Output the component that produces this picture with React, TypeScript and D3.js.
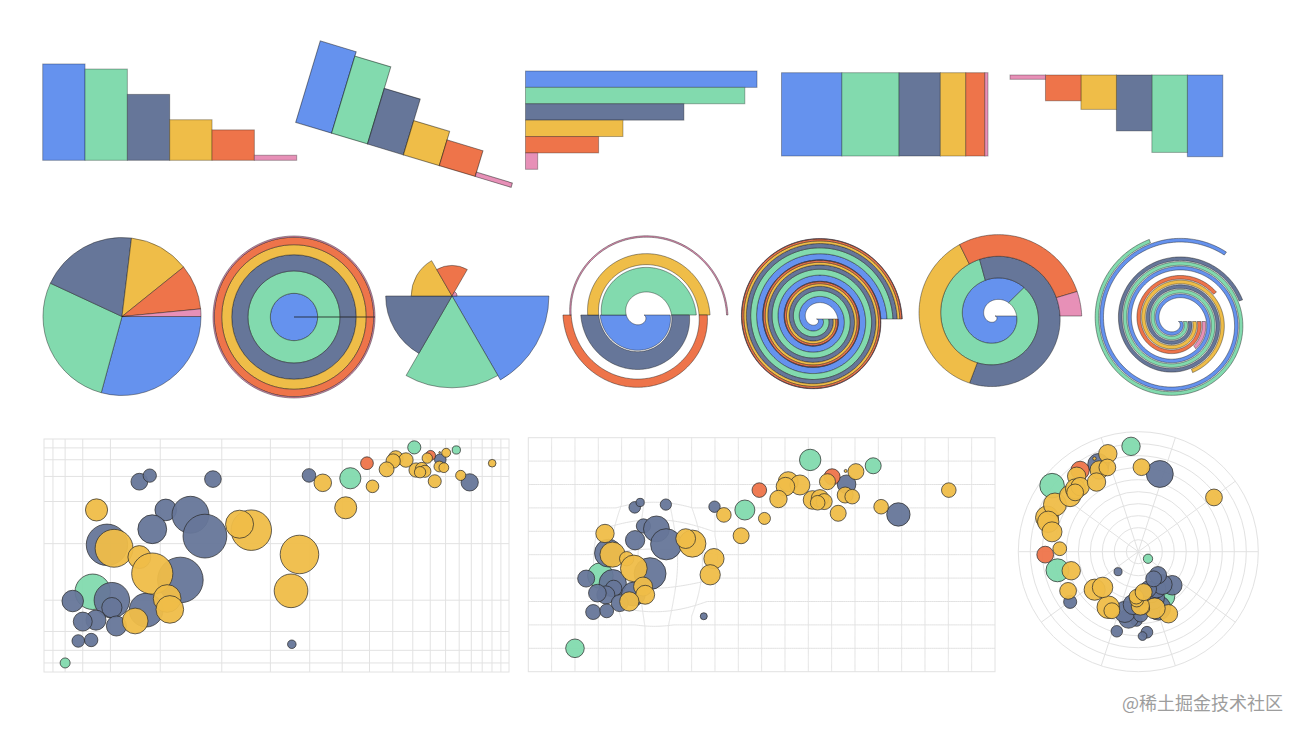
import React from 'react';
import * as d3 from 'd3';

// ---------- data ----------
const categories = ['a', 'b', 'c', 'd', 'e', 'f'];
const values = [0.95, 0.9, 0.65, 0.4, 0.3, 0.05];
const palette = ['#6592EE', '#82DAAE', '#667699', '#EFBD48', '#EE744A', '#E790B7'];

// bubbles: x / y in [0, 100], size = radius in px, group = continent
const bubbleX = [
  17.1, 10, 60.4, 73.9, 46.4,
  19.5, 23.3, 24.2, 29.2, 25.4, 27.3, 28.5, 24.4, 26.5, 12.4, 20.2, 20.2, 17.7, 15.0, 23.9, 20.8, 13.9, 16.8, 37.6, 39.9, 68.2, 79.3,
  65.1, 49.5,
  17.8, 20.5, 23.3, 24.4, 32.9, 31.7, 38.6, 37.5, 25.5, 25.7, 22.9, 41.9, 50.6, 45.6, 68.0, 70.2, 64.1, 55.7, 58.2, 55.1, 53.6, 60.9, 62.5, 63.4, 62.0, 67.9, 69.4, 66.4, 75.6, 90.1,
];
const bubbleY = [
  41.9, 10, 90.5, 88.0, 69.1,
  49.8, 67.5, 70.4, 68.7, 57.5, 56.2, 51.4, 52.8, 44.2, 39.8, 40.0, 38.1, 34.3, 33.8, 37.4, 32.2, 25.5, 26.0, 23.7, 70.5, 80.1, 67.2,
  83.3, 77.6,
  57.5, 49.2, 47.8, 45.3, 52.6, 53.9, 48.2, 42.1, 40.4, 37.6, 34.0, 67.0, 65.5, 58.1, 85.8, 85.5, 81.2, 81.2, 79.8, 79.1, 73.8, 73.4, 74.1, 72.7, 72.2, 75.5, 74.8, 67.7, 70.5, 77.6,
];
const bubbleSize = [
  11, 9.3, 10.7, 8, 10,
  10.6, 5.1, 3.8, 5.0, 4.9, 8.5, 9.2, 6.1, 8.8, 8.5, 10.4, 6.4, 8.1, 8.7, 8.3, 7.1, 7.5, 6.9, 3.5, 5.7, 9.3, 11.7,
  8, 7.3,
  8.0, 9.1, 4.5, 7.9, 9.8, 6.9, 9.2, 8.9, 5.9, 6.3, 7.4, 7.3, 6, 8, 1.5, 8, 8, 10, 10, 9.3, 8.7, 9.3, 8.7, 8, 7.3, 8, 7.3, 8, 7.3, 7.3,
];
const bubbleGroup = [
  ...Array(5).fill('green'),
  ...Array(22).fill('slate'),
  ...Array(2).fill('orange'),
  ...Array(30).fill('yellow'),
];
const groupColor: Record<string, string> = {
  green: '#82DAAE',
  slate: '#667699',
  orange: '#EE744A',
  yellow: '#EFBD48',
};

const TAU = Math.PI * 2;
const barStroke = { stroke: '#000', strokeOpacity: 0.3, strokeWidth: 1 };
const shapeStroke = { stroke: '#1a1a1a', strokeOpacity: 0.55, strokeWidth: 0.8 };

const total = d3.sum(values);
const cumEnd = Array.from(d3.cumsum(values)).map((v) => v / total);
const cumStart = cumEnd.map((v, i) => v - values[i] / total);

// ---------- bar row ----------
const BarsPlain = () => {
  const x = d3.scaleBand<string>().domain(categories).range([42.7, 296.7]);
  const y = d3.scaleLinear().domain([0, 1]).range([160.3, 58.9]);
  return (
    <g>
      {categories.map((c, i) => (
        <rect key={c} x={x(c)} y={y(values[i])} width={x.bandwidth()} height={y(0) - y(values[i])} fill={palette[i]} {...barStroke} />
      ))}
    </g>
  );
};

const BarsRotated = () => {
  const x = d3.scaleBand<string>().domain(categories).range([0, 225]);
  const y = d3.scaleLinear().domain([0, 1]).range([0, -89.5]);
  return (
    <g transform="translate(295.7,122.3) rotate(16.8)">
      {categories.map((c, i) => (
        <rect key={c} x={x(c)} y={y(values[i])} width={x.bandwidth()} height={y(0) - y(values[i])} fill={palette[i]} stroke="#000" strokeOpacity={0.45} strokeWidth={1} />
      ))}
    </g>
  );
};

const BarsHorizontal = () => {
  const y = d3.scaleBand<string>().domain(categories).range([71, 169.3]);
  const x = d3.scaleLinear().domain([0, 1]).range([525.5, 769.2]);
  return (
    <g>
      {categories.map((c, i) => (
        <rect key={c} x={x(0)} y={y(c)} width={x(values[i]) - x(0)} height={y.bandwidth()} fill={palette[i]} {...barStroke} />
      ))}
    </g>
  );
};

const BarsStacked = () => {
  const x = d3.scaleLinear().domain([0, 1]).range([781.5, 988]);
  return (
    <g>
      {categories.map((c, i) => (
        <rect key={c} x={x(cumStart[i])} y={72.7} width={x(cumEnd[i]) - x(cumStart[i])} height={83.3} fill={palette[i]} {...barStroke} />
      ))}
    </g>
  );
};

const BarsReflected = () => {
  const x = d3.scaleBand<string>().domain([...categories].reverse()).range([1010, 1222.8]);
  const y = d3.scaleLinear().domain([0, 1]).range([75, 161]);
  return (
    <g>
      {categories.map((c, i) => (
        <rect key={c} x={x(c)} y={y(0)} width={x.bandwidth()} height={y(values[i]) - y(0)} fill={palette[i]} {...barStroke} />
      ))}
    </g>
  );
};

// ---------- polar row ----------
const Pie = () => {
  const arcs = d3.pie<number>().sort(null).startAngle(Math.PI / 2).endAngle(Math.PI / 2 + TAU)(values);
  const arc = d3.arc<d3.PieArcDatum<number>>().innerRadius(0).outerRadius(79);
  return (
    <g transform="translate(122,316.5)">
      {arcs.map((a, i) => (
        <path key={i} d={arc(a) || ''} fill={palette[i]} {...shapeStroke} />
      ))}
    </g>
  );
};

const Rings = () => {
  const r = d3.scaleLinear().domain([0, 1]).range([0, 81]);
  const arc = d3.arc();
  return (
    <g transform="translate(294,317)">
      {categories.map((c, i) => (
        <path
          key={c}
          d={arc({ innerRadius: r(cumStart[i]), outerRadius: r(cumEnd[i]), startAngle: Math.PI / 2, endAngle: Math.PI / 2 + TAU - 1e-4 }) || ''}
          fill={palette[i]}
          {...shapeStroke}
        />
      ))}
    </g>
  );
};

const Rose = () => {
  const a = d3.scaleBand<string>().domain(categories).range([0, TAU]);
  const r = d3.scaleLinear().domain([0, 1]).range([0, 102]);
  const arc = d3.arc();
  return (
    <g transform="translate(452,296)">
      {categories.map((c, i) => (
        <path
          key={c}
          d={arc({ innerRadius: 0, outerRadius: r(values[i]), startAngle: Math.PI / 2 + (a(c) as number), endAngle: Math.PI / 2 + (a(c) as number) + a.bandwidth() }) || ''}
          fill={palette[i]}
          {...shapeStroke}
        />
      ))}
    </g>
  );
};

type Helix = { cx: number; cy: number; r0: number; b: number };
const helixPt = (h: Helix, t: number, y: number): [number, number] => {
  const r = h.r0 + h.b * t + y * TAU * h.b;
  return [h.cx + r * Math.cos(t), h.cy + r * Math.sin(t)];
};
const line = d3.line();
const helixBand = (h: Helix, t0: number, t1: number, y0: number, y1: number) => {
  const n = Math.max(2, Math.ceil((t1 - t0) / 0.02));
  const ts = d3.range(n + 1).map((i) => t0 + ((t1 - t0) * i) / n);
  const outer = ts.map((t) => helixPt(h, t, y1));
  const inner = ts.slice().reverse().map((t) => helixPt(h, t, y0));
  return (line([...outer, ...inner]) || '') + 'Z';
};

const HelixBars = () => {
  const h = { cx: 642, cy: 315, r0: 2, b: 4.38 };
  const x = d3.scaleBand<string>().domain(categories).range([0, 3 * TAU]);
  const y = d3.scaleLinear().domain([0, 1]).range([0, 1]);
  return (
    <g>
      {categories.map((c, i) => (
        <path key={c} d={helixBand(h, x(c) as number, (x(c) as number) + x.bandwidth(), y(0), y(values[i]))} fill={palette[i]} {...shapeStroke} />
      ))}
    </g>
  );
};

const HelixStacked = () => {
  const h = { cx: 816.5, cy: 319, r0: 0, b: 3.41 };
  return (
    <g>
      {categories.map((c, i) => (
        <path key={c} d={helixBand(h, 0, 3 * TAU, cumStart[i], cumEnd[i])} fill={palette[i]} {...shapeStroke} />
      ))}
    </g>
  );
};

const HelixPie = () => {
  const h = { cx: 995, cy: 316, r0: 0, b: 3.45 };
  const t = d3.scaleLinear().domain([0, 1]).range([0, 3 * TAU]);
  return (
    <g>
      {categories.map((c, i) => (
        <path key={c} d={helixBand(h, t(cumStart[i]), t(cumEnd[i]), 0, 1)} fill={palette[i]} {...shapeStroke} />
      ))}
    </g>
  );
};

const HelixRadial = () => {
  const h = { cx: 1176, cy: 321.5, r0: 2, b: 4.45 };
  const slot = d3.scaleBand<string>().domain(categories).range([0, 1]).paddingInner(0.22).paddingOuter(0.1);
  const t = d3.scaleLinear().domain([0, 1]).range([0, 3 * TAU]);
  return (
    <g>
      {categories.map((c, i) => (
        <path key={c} d={helixBand(h, 0, t(values[i]), slot(c) as number, (slot(c) as number) + slot.bandwidth())} fill={palette[i]} {...shapeStroke} />
      ))}
    </g>
  );
};

// ---------- scatter row ----------
const unit = d3.scaleLinear().domain([0, 100]).range([0, 1]);
const fish1d = (f: number, k: number) => (u: number) => {
  if (u < f) {
    const d = (f - u) / f;
    return f - (f * (k + 1) * d) / (k * d + 1);
  }
  const d = (u - f) / (1 - f);
  return f + ((1 - f) * (k + 1) * d) / (k * d + 1);
};
const circularFisheye = (fx: number, fy: number, radius: number, distortion: number) => {
  let k0 = Math.exp(distortion);
  k0 = (k0 / (k0 - 1)) * radius;
  const k1 = distortion / radius;
  const scaleAt = (x: number, y: number) => {
    const dd = Math.hypot(x - fx, y - fy);
    if (dd >= radius) return 1;
    if (!dd) return k0 * k1 * 0.75 + 0.25;
    return ((k0 * (1 - Math.exp(-dd * k1))) / dd) * 0.75 + 0.25;
  };
  const map = ([x, y]: [number, number]): [number, number] => {
    const k = scaleAt(x, y);
    return [fx + (x - fx) * k, fy + (y - fy) * k];
  };
  return { map, scaleAt };
};

const pointStyle = { stroke: '#2a2a2a', strokeOpacity: 0.8, strokeWidth: 0.9, fillOpacity: 0.95 };
const gridStyle = { stroke: '#e2e2e2', strokeWidth: 1, fill: 'none' };
const xTicks = d3.range(1, 20).map((i) => i / 20);
const yTicks = d3.range(1, 10).map((i) => i / 10);

type Mapper = (u: number, v: number) => [number, number];
const radiusOf = (map: Mapper, u: number, v: number, s: number, W: number, H: number) => {
  const a = s / W;
  const b = s / H;
  const p0 = map(u - a, v - b);
  const p2 = map(u + a, v + b);
  return (Math.abs(p2[0] - p0[0]) / 2 + Math.abs(p2[1] - p0[1]) / 2) / 2;
};

const Bubbles = ({ map, radius }: { map: Mapper; radius: (u: number, v: number, s: number) => number }) => (
  <g>
    {bubbleX.map((bx, i) => {
      const u = unit(bx);
      const v = unit(bubbleY[i]);
      const [px, py] = map(u, v);
      return <circle key={i} cx={px} cy={py} r={Math.max(0.8, radius(u, v, bubbleSize[i]))} fill={groupColor[bubbleGroup[i]]} {...pointStyle} />;
    })}
  </g>
);

const ScatterFisheye = () => {
  const x0 = 44, y0 = 439, W = 465, H = 233;
  const fx = fish1d(0.25, 2);
  const fy = fish1d(0.47, 2);
  const sx = d3.scaleLinear().domain([0, 1]).range([x0, x0 + W]);
  const sy = d3.scaleLinear().domain([0, 1]).range([y0 + H, y0]);
  const map: Mapper = (u, v) => [sx(fx(u)), sy(fy(v))];
  return (
    <g>
      <rect x={x0} y={y0} width={W} height={H} {...gridStyle} />
      {xTicks.map((t) => <line key={'x' + t} x1={sx(fx(t))} x2={sx(fx(t))} y1={y0} y2={y0 + H} {...gridStyle} />)}
      {yTicks.map((t) => <line key={'y' + t} x1={x0} x2={x0 + W} y1={sy(fy(t))} y2={sy(fy(t))} {...gridStyle} />)}
      <Bubbles map={map} radius={(u, v, s) => radiusOf(map, u, v, s, W, H)} />
    </g>
  );
};

const ScatterCircular = () => {
  const x0 = 528.3, y0 = 437.7, W = 466.7, H = 234;
  const sx = d3.scaleLinear().domain([0, 1]).range([x0, x0 + W]);
  const sy = d3.scaleLinear().domain([0, 1]).range([y0 + H, y0]);
  const fe = circularFisheye(sx(0.27), sy(0.47), 66, 2);
  const map: Mapper = (u, v) => fe.map([sx(u), sy(v)]);
  const samples = d3.range(0, 1.0001, 0.004);
  return (
    <g>
      <rect x={x0} y={y0} width={W} height={H} {...gridStyle} />
      {xTicks.map((t) => <path key={'x' + t} d={line(samples.map((v) => map(t, v))) || ''} {...gridStyle} />)}
      {yTicks.map((t) => <path key={'y' + t} d={line(samples.map((u) => map(u, t))) || ''} {...gridStyle} />)}
      <Bubbles map={map} radius={(u, v, s) => s * fe.scaleAt(sx(u), sy(v))} />
    </g>
  );
};

const ScatterPolar = () => {
  const cx = 1138.3, cy = 551.7, R = 120;
  const ang = d3.scaleLinear().domain([0, 1]).range([0, TAU]);
  const rad = d3.scaleLinear().domain([0, 1]).range([0, R]);
  const map: Mapper = (u, v) => [cx + rad(v) * Math.cos(ang(u)), cy + rad(v) * Math.sin(ang(u))];
  const spokes = d3.range(0, 10).map((i) => i / 10);
  const rings = d3.range(1, 11).map((i) => i / 10);
  return (
    <g>
      {rings.map((t) => <circle key={'r' + t} cx={cx} cy={cy} r={rad(t)} {...gridStyle} />)}
      {spokes.map((t) => {
        const [px, py] = map(t, 1);
        return <line key={'s' + t} x1={cx} y1={cy} x2={px} y2={py} {...gridStyle} />;
      })}
      <Bubbles map={map} radius={(u, v, s) => s * Math.min(1.15, 5 * v)} />
    </g>
  );
};

export default function App() {
  return (
    <svg width={1304} height={733} style={{ position: 'absolute', left: 0, top: 0, background: '#fff' }}>
      <BarsPlain />
      <BarsRotated />
      <BarsHorizontal />
      <BarsStacked />
      <BarsReflected />
      <Pie />
      <Rings />
      <Rose />
      <HelixBars />
      <HelixStacked />
      <HelixPie />
      <HelixRadial />
      <ScatterFisheye />
      <ScatterCircular />
      <ScatterPolar />
      <text x={1283} y={710} textAnchor="end" fontSize={18} fill="#9d9d9d" fontFamily="'Noto Sans CJK SC', sans-serif">
        @稀土掘金技术社区
      </text>
    </svg>
  );
}
